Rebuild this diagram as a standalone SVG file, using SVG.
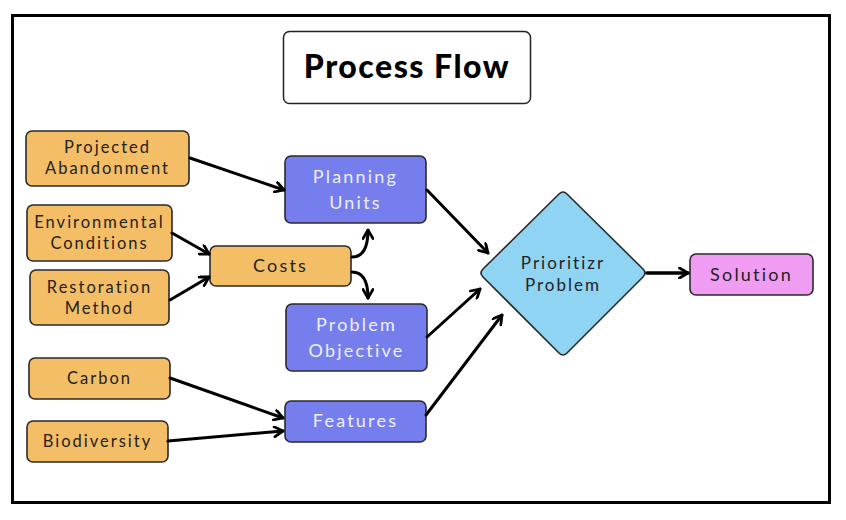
<svg xmlns="http://www.w3.org/2000/svg" width="846" height="520" viewBox="0 0 846 520">
<style>
.t{font-family:Lato,"Liberation Sans",sans-serif;font-size:16.5px;letter-spacing:2px;text-anchor:middle}
.b{font-size:18px;letter-spacing:2.2px}
.dk{fill:#222}
.lt{fill:#eef0ff}
.or{fill:#F4BE67;stroke:#2a2a2a;stroke-width:1.6}
.bl{fill:#767EEE;stroke:#2a2a2a;stroke-width:1.6}
.c{fill:none;stroke:#000;stroke-width:3;stroke-linecap:round}
</style>
<defs>
<marker id="ah" viewBox="0 0 12 12" refX="10.5" refY="6" markerWidth="12" markerHeight="12" markerUnits="userSpaceOnUse" orient="auto">
<path d="M2,1 L10.5,6 L2,11" fill="none" stroke="#000" stroke-width="2.8" stroke-linecap="round" stroke-linejoin="round"/>
</marker>
</defs>
<rect x="0" y="0" width="846" height="520" fill="#fff"/>
<rect id="frame" x="12.5" y="15.5" width="817" height="487" fill="none" stroke="#000" stroke-width="3"/>
<g id="title">
<rect x="283.5" y="31.5" width="247" height="72" rx="6" fill="#fff" stroke="#222" stroke-width="1.5"/>
<text x="407" y="78" style="font-family:Lato,'Liberation Sans',sans-serif;font-size:32px;font-weight:900;text-anchor:middle;letter-spacing:1.5px" fill="#000">Process Flow</text>
</g>
<g id="projected"><rect class="or" x="26" y="131" width="163" height="55" rx="6"/><text class="t dk" x="107.5" y="152.5">Projected</text><text class="t dk" x="107.5" y="173.5">Abandonment</text></g>
<g id="environmental"><rect class="or" x="27" y="205" width="145" height="56" rx="6"/><text class="t dk" x="99.5" y="227.5">Environmental</text><text class="t dk" x="99.5" y="248.5">Conditions</text></g>
<g id="restoration"><rect class="or" x="30" y="270" width="139" height="55" rx="6"/><text class="t dk" x="99.5" y="292.5">Restoration</text><text class="t dk" x="99.5" y="313.5">Method</text></g>
<g id="costs"><rect class="or" x="210" y="246" width="141" height="40" rx="6"/><text class="t b dk" x="280.5" y="272">Costs</text></g>
<g id="carbon"><rect class="or" x="29" y="358" width="141" height="41" rx="6"/><text class="t dk" x="99.5" y="384">Carbon</text></g>
<g id="biodiversity"><rect class="or" x="27" y="421" width="141" height="41" rx="6"/><text class="t dk" x="97.5" y="447">Biodiversity</text></g>
<g id="planning"><rect class="bl" x="285" y="156" width="141" height="67" rx="6"/><text class="t b lt" x="355.5" y="183">Planning</text><text class="t b lt" x="355.5" y="209">Units</text></g>
<g id="objective"><rect class="bl" x="286" y="304" width="141" height="67" rx="6"/><text class="t b lt" x="356.5" y="331">Problem</text><text class="t b lt" x="356.5" y="357">Objective</text></g>
<g id="features"><rect class="bl" x="285" y="401" width="141" height="41" rx="6"/><text class="t b lt" x="355.5" y="427">Features</text></g>
<g id="prioritizr"><path d="M559,194 Q563,190 567,194 L643,269 Q647,273 643,277 L567,353 Q563,357 559,353 L483,277 Q479,273 483,269 Z" fill="#8FD4F3" stroke="#2a2a2a" stroke-width="1.6"/><text class="t dk" x="563" y="269" style="font-size:17px">Prioritizr</text><text class="t dk" x="563" y="291" style="font-size:17px">Problem</text></g>
<g id="solution"><rect x="690" y="254" width="123" height="41" rx="6" fill="#F19CF3" stroke="#2a2a2a" stroke-width="1.6"/><text class="t b dk" x="751.5" y="281">Solution</text></g>
<g id="connectors">
<path class="c" d="M190,158 L284,190" marker-end="url(#ah)"/>
<path class="c" d="M172,233 L209,254" marker-end="url(#ah)"/>
<path class="c" d="M170,300 L209,277" marker-end="url(#ah)"/>
<path class="c" d="M352,257 Q368,257 368,230" marker-end="url(#ah)"/>
<path class="c" d="M352,272 Q368,272 368,298" marker-end="url(#ah)"/>
<path class="c" d="M427,190 L488,253" marker-end="url(#ah)"/>
<path class="c" d="M427,337 L480,289" marker-end="url(#ah)"/>
<path class="c" d="M426,415 L502,315" marker-end="url(#ah)"/>
<path class="c" d="M647,273 L688,273" marker-end="url(#ah)" style="stroke-width:3.5"/>
<path class="c" d="M170,378 L283,418" marker-end="url(#ah)"/>
<path class="c" d="M168,441 L283,431" marker-end="url(#ah)"/>
</g>
</svg>
